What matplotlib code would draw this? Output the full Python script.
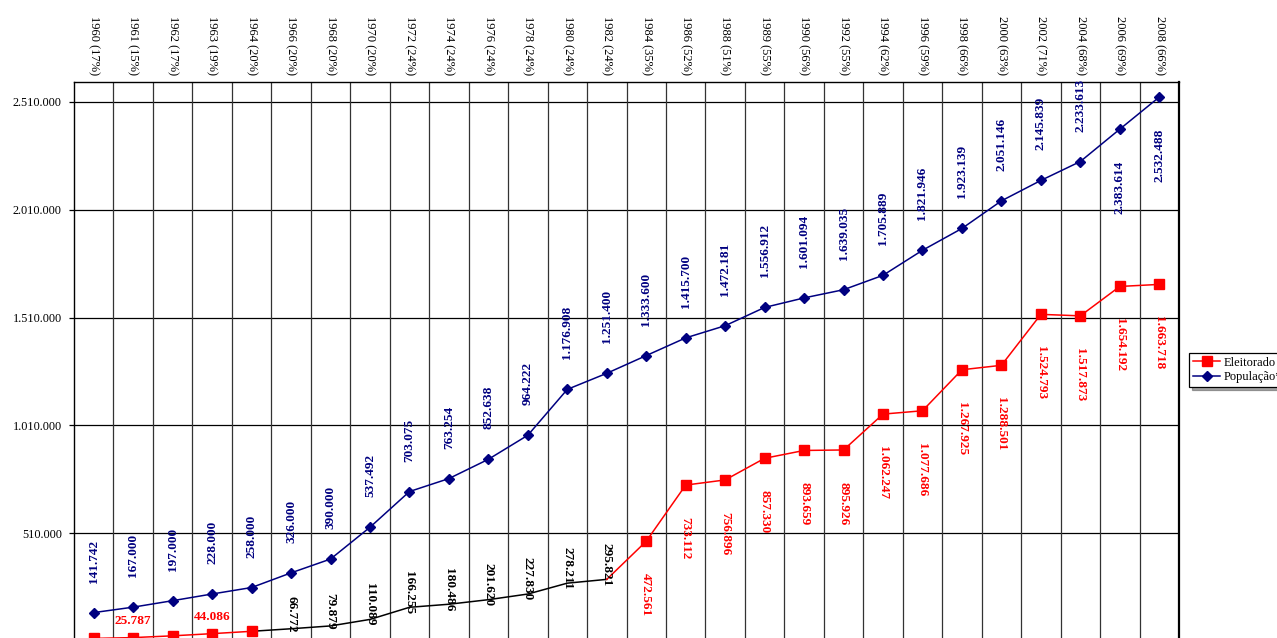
import matplotlib
matplotlib.use('Agg')
import matplotlib.pyplot as plt
from matplotlib.ticker import FuncFormatter, FixedLocator

# categories (year + share of population that votes)
years = [1960, 1961, 1962, 1963, 1964, 1966, 1968, 1970, 1972, 1974, 1976, 1978,
         1980, 1982, 1984, 1986, 1988, 1989, 1990, 1992, 1994, 1996, 1998, 2000,
         2002, 2004, 2006, 2008]
shares = [17, 15, 17, 19, 20, 20, 20, 20, 24, 24, 24, 24, 24, 24, 35, 52, 51, 55,
          56, 55, 62, 59, 66, 63, 71, 68, 69, 66]

populacao = [141742, 167000, 197000, 228000, 258000, 326000, 390000, 537492,
             703075, 763254, 852638, 964222, 1176908, 1251400, 1333600, 1415700,
             1472181, 1556912, 1601094, 1639035, 1705889, 1821946, 1923139,
             2051146, 2145839, 2233613, 2383614, 2532488]

# 1960, 1962 and 1964 have no label in the picture: estimated from the marks
eleitorado = [22000, 25787, 34000, 44086, 55000, 66772, 79879, 110089, 166255,
              180486, 201620, 227830, 278211, 295821, 472561, 733112, 756896,
              857330, 893659, 895926, 1062247, 1077686, 1267925, 1288501,
              1524793, 1517873, 1654192, 1663718]

yticks = [10000, 510000, 1010000, 1510000, 2010000, 2510000]

RED = '#FF0000'
BLUE = '#000080'
SERIF = 'Liberation Serif'

plt.rcParams['font.family'] = SERIF

def fmt(v):
    return f"{int(v):,}".replace(",", ".")

x = list(range(len(years)))
cats = [f"{y} ({s}%)" for y, s in zip(years, shares)]

fig = plt.figure(figsize=(12.77, 6.38), dpi=100)
ax = fig.add_axes([74 / 1277, -3 / 638, 1105 / 1277, 0.8762])

ax.set_xlim(-0.5, len(years) - 0.5)
ax.set_ylim(10000, 2602400)

# grid: horizontal at ticks, vertical between categories
for yt in yticks:
    ax.axhline(yt, color='black', lw=0.9, zorder=1)
for b in range(1, len(years)):
    ax.axvline(b - 0.5, color='#333333', lw=0.9, zorder=1)

# populacao
ax.plot(x, populacao, color=BLUE, lw=1.1, marker='D', ms=5, mfc=BLUE, mec=BLUE,
        zorder=3, label='População*')

# eleitorado: red part, black middle part, red part
ax.plot(x[:5], eleitorado[:5], color=RED, lw=1.1, marker='s', ms=6.5,
        zorder=3, label='Eleitorado')
ax.plot(x[4:14], eleitorado[4:14], color='black', lw=1.1, zorder=2)
ax.plot(x[13:], eleitorado[13:], color=RED, lw=1.1, marker='s', ms=6.5,
        markevery=list(range(1, len(x) - 13)), zorder=3)

lab = dict(fontsize=9.5, fontweight='bold', textcoords='offset pixels')
n = len(populacao)
for i, v in enumerate(populacao):
    if i >= n - 2:
        # last two sit under their point
        ax.annotate(fmt(v), (i, v), xytext=(0, -32), rotation=90, ha='center',
                    va='top', color=BLUE, **lab)
    else:
        ax.annotate(fmt(v), (i, v), xytext=(0, 30), rotation=90, ha='center',
                    va='bottom', color=BLUE, **lab)

for i, v in enumerate(eleitorado):
    if i in (1, 3):
        ax.annotate(fmt(v), (i, v), xytext=(0, 17), ha='center', va='center',
                    color=RED, **lab)
    elif 5 <= i <= 13:
        ax.annotate(fmt(v), (i, v), xytext=(0, 15), rotation=-90, ha='center',
                    va='center', color='black', **lab)
    elif i >= 14:
        ax.annotate(fmt(v), (i, v), xytext=(0, -32), rotation=-90, ha='center',
                    va='top', color=RED, **lab)

# axes styling
ax.yaxis.set_major_locator(FixedLocator(yticks))
ax.yaxis.set_major_formatter(FuncFormatter(lambda v, p: fmt(v)))
ax.tick_params(axis='y', length=3.8, width=0.9, pad=5, labelsize=8.8)

ax.xaxis.tick_top()
ax.set_xticks(x)
ax.set_xticklabels(cats, rotation=-90, fontsize=9)
ax.tick_params(axis='x', length=0, pad=5)

for s in ax.spines.values():
    s.set_color('black')
    s.set_linewidth(1.0)
ax.spines['right'].set_linewidth(1.6)

handles, labels = ax.get_legend_handles_labels()
leg = fig.legend(handles[::-1], labels[::-1], loc='upper left',
                 bbox_to_anchor=(1189 / 1277, 1 - 353 / 638), frameon=True,
                 fancybox=False, shadow=True, fontsize=9, handlelength=2.2,
                 borderpad=0.3, labelspacing=0.2, handletextpad=0.3,
                 borderaxespad=0)
leg.get_frame().set_edgecolor('black')
leg.get_frame().set_linewidth(0.9)

fig.savefig('out.png', dpi=100)
